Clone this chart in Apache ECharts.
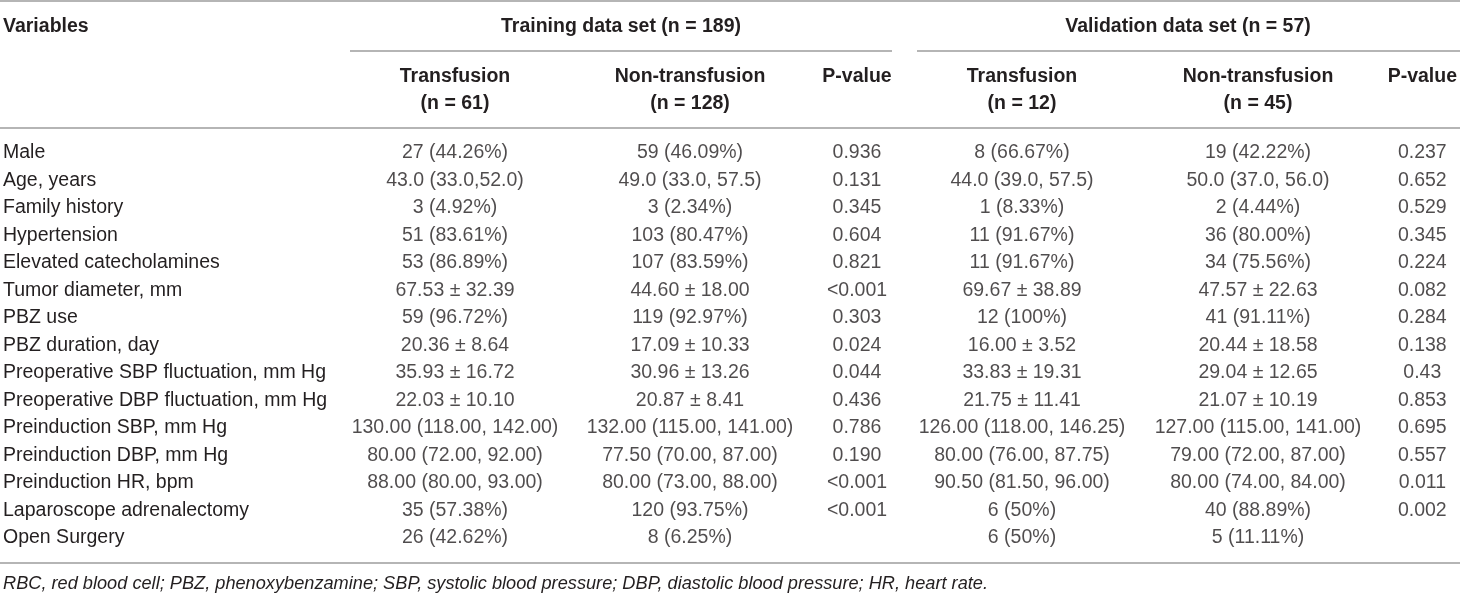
<!DOCTYPE html>
<html><head><meta charset="utf-8">
<script src="https://cdn.jsdelivr.net/npm/echarts@6/dist/echarts.min.js"></script>
<style>html,body{margin:0;padding:0;background:#fff}#c{width:1460px;height:593px}</style>
</head><body><div id="c"></div><script>
const variables = ['Male','Age, years','Family history','Hypertension','Elevated catecholamines','Tumor diameter, mm','PBZ use','PBZ duration, day','Preoperative SBP fluctuation, mm Hg','Preoperative DBP fluctuation, mm Hg','Preinduction SBP, mm Hg','Preinduction DBP, mm Hg','Preinduction HR, bpm','Laparoscope adrenalectomy','Open Surgery'];
const trainTransfusion = ['27 (44.26%)','43.0 (33.0,52.0)','3 (4.92%)','51 (83.61%)','53 (86.89%)','67.53 ± 32.39','59 (96.72%)','20.36 ± 8.64','35.93 ± 16.72','22.03 ± 10.10','130.00 (118.00, 142.00)','80.00 (72.00, 92.00)','88.00 (80.00, 93.00)','35 (57.38%)','26 (42.62%)'];
const trainNonTransfusion = ['59 (46.09%)','49.0 (33.0, 57.5)','3 (2.34%)','103 (80.47%)','107 (83.59%)','44.60 ± 18.00','119 (92.97%)','17.09 ± 10.33','30.96 ± 13.26','20.87 ± 8.41','132.00 (115.00, 141.00)','77.50 (70.00, 87.00)','80.00 (73.00, 88.00)','120 (93.75%)','8 (6.25%)'];
const trainP = ['0.936','0.131','0.345','0.604','0.821','<0.001','0.303','0.024','0.044','0.436','0.786','0.190','<0.001','<0.001',''];
const validTransfusion = ['8 (66.67%)','44.0 (39.0, 57.5)','1 (8.33%)','11 (91.67%)','11 (91.67%)','69.67 ± 38.89','12 (100%)','16.00 ± 3.52','33.83 ± 19.31','21.75 ± 11.41','126.00 (118.00, 146.25)','80.00 (76.00, 87.75)','90.50 (81.50, 96.00)','6 (50%)','6 (50%)'];
const validNonTransfusion = ['19 (42.22%)','50.0 (37.0, 56.0)','2 (4.44%)','36 (80.00%)','34 (75.56%)','47.57 ± 22.63','41 (91.11%)','20.44 ± 18.58','29.04 ± 12.65','21.07 ± 10.19','127.00 (115.00, 141.00)','79.00 (72.00, 87.00)','80.00 (74.00, 84.00)','40 (88.89%)','5 (11.11%)'];
const validP = ['0.237','0.652','0.529','0.345','0.224','0.082','0.284','0.138','0.43','0.853','0.695','0.557','0.011','0.002',''];
const columnHeaders = ['Transfusion\n(n = 61)','Non-transfusion\n(n = 128)','P-value','Transfusion\n(n = 12)','Non-transfusion\n(n = 45)','P-value'];
const groupHeaders = ['Training data set (n = 189)','Validation data set (n = 57)'];
const firstHeader = 'Variables';
const footnote = 'RBC, red blood cell; PBZ, phenoxybenzamine; SBP, systolic blood pressure; DBP, diastolic blood pressure; HR, heart rate.';

const columns = [trainTransfusion, trainNonTransfusion, trainP, validTransfusion, validNonTransfusion, validP];
const colCenters = [455, 690, 857, 1022, 1258, 1423];
const FONT = "'Liberation Sans', Arial, Helvetica, sans-serif";
const FS = 19.5;
const FS_NOTE = 18.2;
const TXT = '#231f20';
const RULE = '#9d9d9d';
const TOP = 139.25, ROWH = 27.5;
const H = ROWH * variables.length;
const CW = 20;

const grids = [{left: 3, top: TOP, width: 300, height: H}];
const xAxes = [{type: 'value', gridIndex: 0, show: false, min: 0, max: 1}];
const yAxes = [{type: 'category', gridIndex: 0, data: variables, inverse: true,
  axisLine: {show: false}, axisTick: {show: false}, splitLine: {show: false},
  axisLabel: {inside: true, margin: 0, align: 'left', color: TXT, fontFamily: FONT, fontSize: FS}}];
const series = [];
columns.forEach((col, i) => {
  const g = i + 1;
  grids.push({left: colCenters[i] - CW / 2, top: TOP, width: CW, height: H});
  xAxes.push({type: 'category', gridIndex: g, data: [columnHeaders[i]], position: 'top',
    axisLine: {show: false}, axisTick: {show: false}, splitLine: {show: false},
    axisLabel: {color: TXT, fontFamily: FONT, fontSize: FS, fontWeight: 'bold', lineHeight: 27,
      verticalAlign: 'top', margin: TOP - 63.5, interval: 0, hideOverlap: false}});
  yAxes.push({type: 'category', gridIndex: g, data: variables, inverse: true, show: false});
  series.push({type: 'scatter', xAxisIndex: g, yAxisIndex: g, symbol: 'circle', symbolSize: 1,
    itemStyle: {color: 'rgba(0,0,0,0)'}, silent: true,
    data: col.map((v, j) => ({value: [0, j], name: v})),
    label: {show: true, position: 'inside', formatter: '{b}', color: TXT, fontFamily: FONT, fontSize: FS}});
});

const line = (x1, x2, y) => ({type: 'line', silent: true, shape: {x1, y1: y, x2, y2: y}, style: {stroke: RULE, lineWidth: 1.6}});
const text = (t, x, y, align, weight, style, size) => ({type: 'text', silent: true, x, y,
  style: {text: t, fill: TXT, font: (style || 'normal') + ' ' + (weight || 'normal') + ' ' + (size || FS) + 'px ' + FONT, textAlign: align, textVerticalAlign: 'middle'}});

const chart = echarts.init(document.getElementById('c'));
chart.setOption({
  animation: false,
  grid: grids, xAxis: xAxes, yAxis: yAxes, series,
  graphic: [
    line(0, 1460, 1),
    line(350, 892, 51),
    line(917, 1460, 51),
    line(0, 1460, 128),
    line(0, 1460, 563),
    text(firstHeader, 3, 27, 'left', 'bold'),
    text(groupHeaders[0], 621, 27, 'center', 'bold'),
    text(groupHeaders[1], 1188, 27, 'center', 'bold'),
    text(footnote, 3, 584, 'left', 'normal', 'italic', FS_NOTE)
  ]
});
</script></body></html>
